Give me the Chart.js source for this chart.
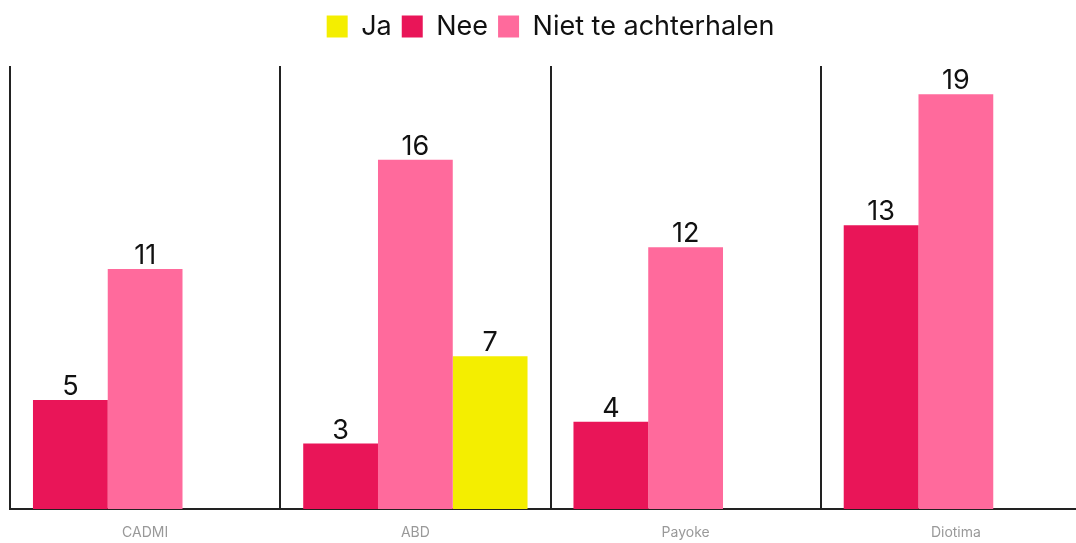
<!DOCTYPE html>
<html>
<head>
<meta charset="utf-8">
<script src="https://cdn.jsdelivr.net/npm/chart.js@4/dist/chart.umd.min.js"></script>
<style>
  html, body { margin: 0; padding: 0; background: #fff; overflow: hidden; }
  #wrap { width: 1076px; height: 543px; overflow: hidden; }
</style>
</head>
<body>
<div id="wrap"><canvas id="c" width="1092" height="543"></canvas></div>
<script>
const categories = ['CADMI', 'ABD', 'Payoke', 'Diotima'];
const neeValues = [5, 3, 4, 13];
const nietValues = [11, 16, 12, 19];
const jaValues = [null, 7, null, null];
const seriesNames = ['Nee', 'Niet te achterhalen', 'Ja'];
const legendOrder = ['Ja', 'Nee', 'Niet te achterhalen'];

const FONT = 'Inter, "Noto Sans", sans-serif';

const valueLabels = {
  id: 'valueLabels',
  afterDatasetsDraw(chart) {
    const ctx = chart.ctx;
    ctx.save();
    ctx.font = '400 27px ' + FONT;
    ctx.fillStyle = '#111';
    ctx.textAlign = 'center';
    ctx.textBaseline = 'alphabetic';
    chart.data.datasets.forEach((ds, i) => {
      const meta = chart.getDatasetMeta(i);
      meta.data.forEach((el, j) => {
        const v = ds.data[j];
        if (v === null || v === undefined) return;
        ctx.fillText(String(v), el.x, el.y - 5);
      });
    });
    ctx.restore();
  }
};

const legendSpacing = {
  id: 'legendSpacing',
  beforeInit(chart) {
    const orig = chart.legend.fit;
    chart.legend.fit = function () {
      orig.call(this);
      this.height += 16;
    };
  }
};

new Chart(document.getElementById('c'), {
  type: 'bar',
  data: {
    labels: categories,
    datasets: [
      { label: seriesNames[0], data: neeValues, backgroundColor: '#E91558' },
      { label: seriesNames[1], data: nietValues, backgroundColor: '#FF6A9C' },
      { label: seriesNames[2], data: jaValues, backgroundColor: '#F4EE00' }
    ]
  },
  options: {
    responsive: false,
    animation: false,
    layout: { padding: { left: 10, right: 1, top: 3, bottom: 0 } },
    datasets: { bar: { barPercentage: 1.0, categoryPercentage: 0.83 } },
    plugins: {
      tooltip: { enabled: false },
      legend: {
        position: 'top',
        labels: {
          boxWidth: 21,
          boxHeight: 22,
          padding: 10,
          color: '#111',
          font: { family: FONT, size: 27 },
          sort: (a, b) => legendOrder.indexOf(a.text) - legendOrder.indexOf(b.text)
        }
      }
    },
    scales: {
      x: {
        grid: { offset: true, color: '#222', lineWidth: 2, drawTicks: false },
        border: { display: true, color: '#222', width: 2 },
        ticks: { color: '#999', font: { family: FONT, size: 14 }, padding: 15 },
        afterFit(scale) { scale.height = 34; }
      },
      y: {
        display: false,
        min: 0,
        max: 20.3
      }
    }
  },
  plugins: [valueLabels, legendSpacing]
});
</script>
</body>
</html>
